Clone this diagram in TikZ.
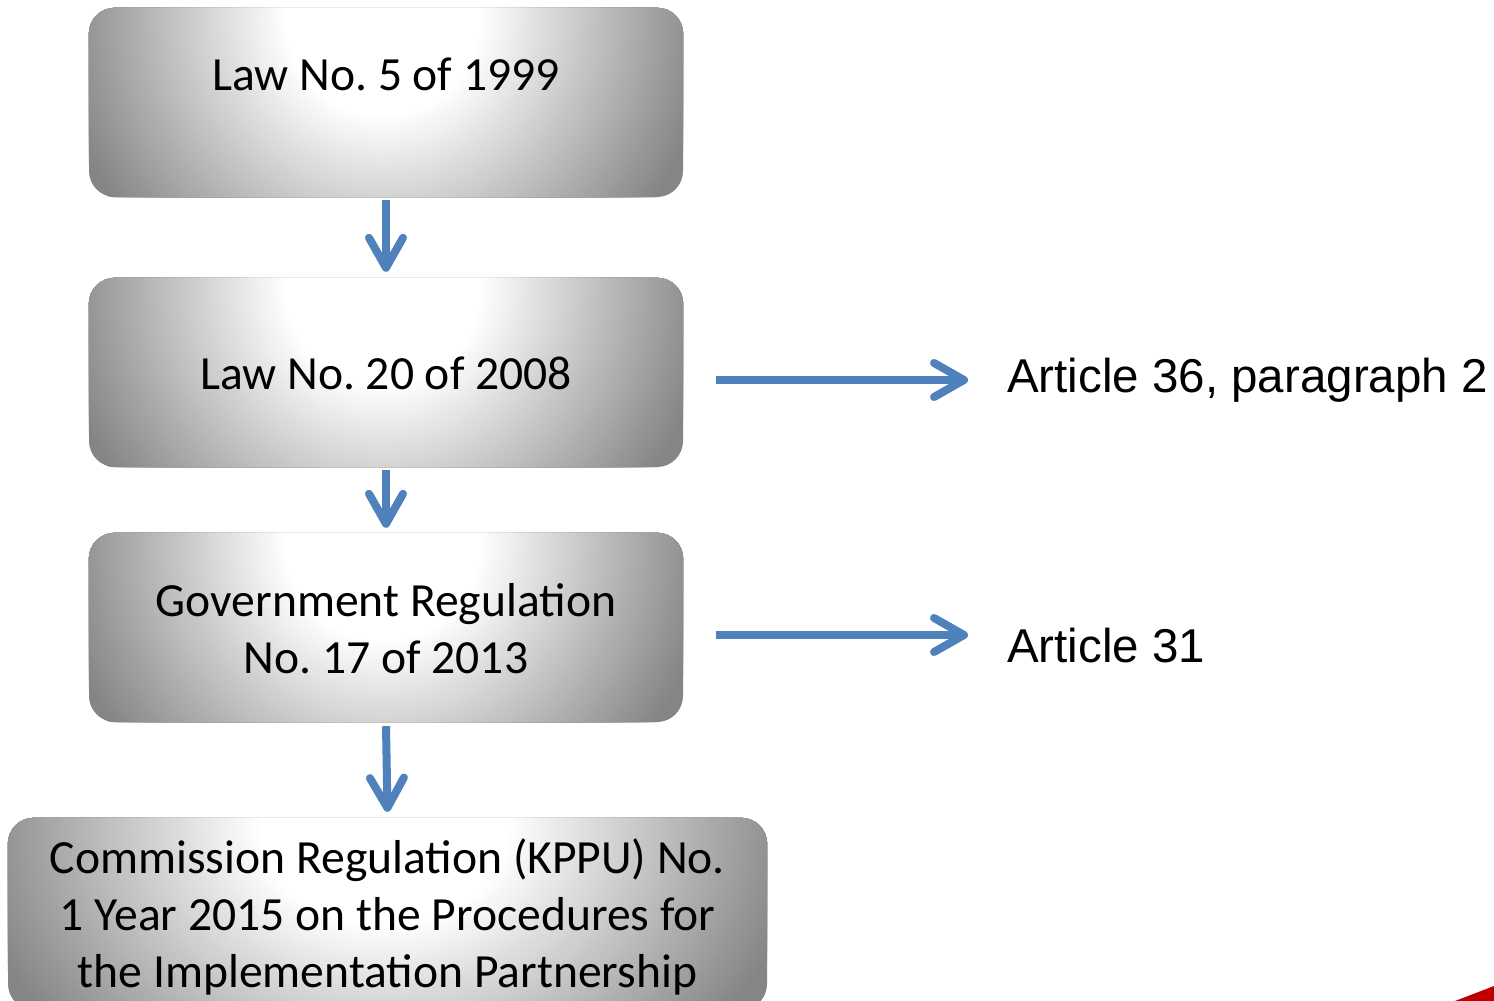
\documentclass[tikz,border=0pt]{standalone}
\usepackage{fontspec}
\setmainfont{Carlito}
\newfontfamily\arialfont{Liberation Sans}
\usetikzlibrary{arrows.meta}
\definecolor{arrowblue}{HTML}{4F81BD}
\definecolor{boxedge}{HTML}{858585}
\definecolor{cornerred}{HTML}{C00000}
\frenchspacing
% radial glow inside a box node: #1 node name, #2 horizontal semi-axis (pt)
\newcommand\glowfill[2]{%
  \begin{scope}
    \clip[rounded corners=26pt] (#1.south west) rectangle (#1.north east);
    \foreach \i in {0,...,56}{%
      \pgfmathsetmacro\ax{(1-0.7*\i/56)*#2}%
      \pgfmathsetmacro\by{(1-0.7*\i/56)*330}%
      \pgfmathsetmacro\pp{100*\i/56}%
      \fill[white!\pp!boxedge] ([xshift=-3pt,yshift=-10pt]#1.north) ellipse (\ax pt and \by pt);}
  \end{scope}}
\begin{document}
\begin{tikzpicture}[x=1pt,y=-1pt,
  box/.style={rounded corners=26pt, minimum width=594pt, minimum height=189pt, inner sep=0pt, fill=boxedge},
  boxtext/.style={font=\fontsize{47.6}{57}\selectfont, align=center, inner sep=0pt},
  arttext/.style={font=\arialfont\fontsize{47.5}{57}\selectfont, inner sep=0pt, anchor=base west},
  arr/.style={draw=arrowblue, line width=8pt, -{Straight Barb[length=30pt, width=34pt, line cap=round, line join=round]}}
]
\useasboundingbox (0,0) rectangle (1494,1001);
\fill[white] (0,0) rectangle (1494,1001);

% boxes
\node[box] (b1) at (386,102.5) {};
\node[box] (b2) at (386,372.5) {};
\node[box] (b3) at (386,627.5) {};
\node[box, minimum width=759pt, minimum height=192pt] (b4) at (387.5,914) {};
\glowfill{b1}{328}
\glowfill{b2}{328}
\glowfill{b3}{328}
\glowfill{b4}{419}

% box texts
\node[boxtext, anchor=base] (t1) at (386,90) {Law No. 5 of 1999};
\node[boxtext, anchor=base] (t2) at (386,389) {Law No. 20 of 2008};
\node[boxtext, anchor=base] (t3) at (386,673) {Government Regulation\\No. 17 of 2013};
\node[boxtext, anchor=base] (t4) at (387.5,987) {Commission Regulation (KPPU) No.\\1 Year 2015 on the Procedures for\\the Implementation Partnership};

% right texts
\node[arttext] (a1) at (1007,392) {Article 36, paragraph 2};
\node[arttext] (a2) at (1007,662) {Article 31};

% vertical connectors
\draw[arr] ([yshift=-3pt]b1.south) -- ([yshift=6pt]b2.north);
\draw[arr] ([yshift=-3pt]b2.south) -- ([yshift=5pt]b3.north);
\draw[arr] ([yshift=-4pt]b3.south) -- ([yshift=6pt]b4.north);

% horizontal connectors
\coordinate (s1) at ([xshift=33pt,yshift=-7.5pt]b2.east);
\coordinate (s2) at ([xshift=33pt,yshift=-7.5pt]b3.east);
\draw[arr, shorten >=39pt] (s1) -- (s1 -| a1.west);
\draw[arr, shorten >=39pt] (s2) -- (s2 -| a2.west);

% red corner
\fill[cornerred] (1455,1001) -- (1494,986) -- (1494,1001) -- cycle;
\end{tikzpicture}
\end{document}
